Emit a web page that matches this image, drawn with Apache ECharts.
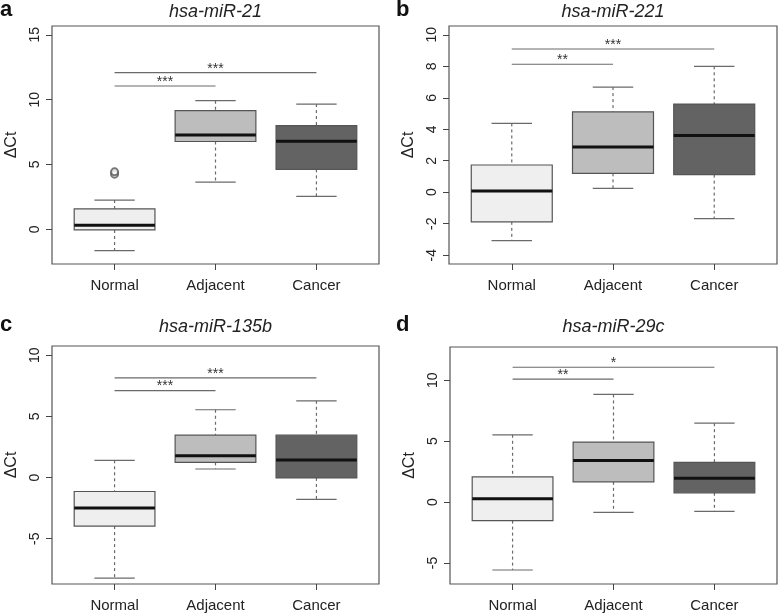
<!DOCTYPE html>
<html>
<head>
<meta charset="utf-8">
<script src="https://cdn.jsdelivr.net/npm/echarts@6/dist/echarts.min.js"></script>
<style>
html,body{margin:0;padding:0;background:#fff;}
#chart{width:778px;height:614px;}
</style>
</head>
<body>
<div id="chart"></div>
<script>
// ---------- data ----------
const categories = ['Normal', 'Adjacent', 'Cancer'];
const panelLetters = ['a', 'b', 'c', 'd'];
const panelTitles = ['hsa-miR-21', 'hsa-miR-221', 'hsa-miR-135b', 'hsa-miR-29c'];

// five-number summaries per group: [lower whisker, Q1, median, Q3, upper whisker]
const miR21Stats  = [[-1.65, -0.05, 0.31, 1.58, 2.25], [3.64, 6.77, 7.28, 9.15, 9.92], [2.54, 4.62, 6.79, 8.00, 9.66]];
const miR221Stats = [[-3.07, -1.88, 0.08, 1.73, 4.37], [0.24, 1.20, 2.88, 5.11, 6.68], [-1.68, 1.12, 3.60, 5.60, 8.00]];
const miR135bStats = [[-8.22, -3.97, -2.49, -1.14, 1.41], [0.70, 1.24, 1.78, 3.46, 5.54], [-1.78, -0.03, 1.43, 3.46, 6.27]];
const miR29cStats = [[-5.57, -1.52, 0.27, 2.07, 5.52], [-0.84, 1.66, 3.42, 4.92, 8.83], [-0.76, 0.76, 1.96, 3.26, 6.47]];

// outliers: [group (1-based), value]
const miR21Outliers = [[1, 4.25], [1, 4.43]];
const miR221Outliers = [];
const miR135bOutliers = [];
const miR29cOutliers = [];

// significance brackets: [from group, to group, y, label]
const miR21Sig  = [[1, 2, 11.05, '***'], [1, 3, 12.08, '***']];
const miR221Sig = [[1, 2, 8.13, '**'], [1, 3, 9.10, '***']];
const miR135bSig = [[1, 2, 7.11, '***'], [1, 3, 8.14, '***']];
const miR29cSig = [[1, 2, 10.08, '**'], [1, 3, 11.06, '*']];

// y tick labels
const miR21Ticks  = [0, 5, 10, 15];
const miR221Ticks = [-4, -2, 0, 2, 4, 6, 8, 10];
const miR135bTicks = [-5, 0, 5, 10];
const miR29cTicks = [-5, 0, 5, 10];

// y-axis ranges
const miR21Range  = [-2.68, 15.68];
const miR221Range = [-4.56, 10.56];
const miR135bRange = [-8.7, 10.75];
const miR29cRange = [-6.72, 12.72];

// ---------- layout / style ----------
const statsList = [miR21Stats, miR221Stats, miR135bStats, miR29cStats];
const outList = [miR21Outliers, miR221Outliers, miR135bOutliers, miR29cOutliers];
const sigList = [miR21Sig, miR221Sig, miR135bSig, miR29cSig];
const tickList = [miR21Ticks, miR221Ticks, miR135bTicks, miR29cTicks];
const rangeList = [miR21Range, miR221Range, miR135bRange, miR29cRange];

const grids = [
  {left: 52, top: 26, width: 327, height: 238},
  {left: 449, top: 26, width: 328, height: 238},
  {left: 52, top: 346, width: 327, height: 238},
  {left: 450, top: 347, width: 327, height: 237}
];
const titleCenters = [11.5, 11.5, 327, 326.5];
const letterPos = [[0, -1], [396, -1], [0, 314], [396, 314]];
const fills = ['#efefef', '#bdbdbd', '#636363'];
const FONT = 'Liberation Sans, Arial, Helvetica, sans-serif';
const GRAY = '#6a6a6a';

function boxRender(params, api) {
  const x = api.value(0);
  const lo = api.value(1), q1 = api.value(2), med = api.value(3), q3 = api.value(4), hi = api.value(5);
  const hw = 0.4, cw = 0.2;
  const tl = api.coord([x - hw, q3]);
  const br = api.coord([x + hw, q1]);
  const cTop = api.coord([x, hi]);
  const cQ3 = api.coord([x, q3]);
  const cQ1 = api.coord([x, q1]);
  const cBot = api.coord([x, lo]);
  const capL = api.coord([x - cw, hi])[0];
  const capR = api.coord([x + cw, hi])[0];
  const mL = api.coord([x - hw, med]);
  const mR = api.coord([x + hw, med]);
  const idx = Math.round(x) - 1;
  return {
    type: 'group',
    children: [
      {type: 'line', shape: {x1: cTop[0], y1: cTop[1], x2: cQ3[0], y2: cQ3[1]}, style: {stroke: GRAY, lineWidth: 1.2, lineDash: [3, 3]}},
      {type: 'line', shape: {x1: cQ1[0], y1: cQ1[1], x2: cBot[0], y2: cBot[1]}, style: {stroke: GRAY, lineWidth: 1.2, lineDash: [3, 3]}},
      {type: 'line', shape: {x1: capL, y1: cTop[1], x2: capR, y2: cTop[1]}, style: {stroke: GRAY, lineWidth: 1.2}},
      {type: 'line', shape: {x1: capL, y1: cBot[1], x2: capR, y2: cBot[1]}, style: {stroke: GRAY, lineWidth: 1.2}},
      {type: 'rect', shape: {x: tl[0], y: tl[1], width: br[0] - tl[0], height: br[1] - tl[1]}, style: {fill: fills[idx], stroke: '#555', lineWidth: 1.2}},
      {type: 'line', shape: {x1: mL[0], y1: mL[1], x2: mR[0], y2: mR[1]}, style: {stroke: '#111', lineWidth: 3}}
    ]
  };
}

function makeSigRender(panel) {
  return function (params, api) {
    const a = api.coord([api.value(0), api.value(2)]);
    const b = api.coord([api.value(1), api.value(2)]);
    const label = sigList[panel][params.dataIndex][3];
    return {
      type: 'group',
      children: [
        {type: 'line', shape: {x1: a[0], y1: a[1], x2: b[0], y2: b[1]}, style: {stroke: GRAY, lineWidth: 1.2}},
        {type: 'text', style: {text: label, x: (a[0] + b[0]) / 2, y: a[1] + 3, align: 'center', verticalAlign: 'bottom', font: '14px ' + FONT, fill: '#333'}}
      ]
    };
  };
}

const option = {
  animation: false,
  backgroundColor: '#fff',
  title: [],
  grid: [],
  xAxis: [],
  yAxis: [],
  series: []
};

for (let i = 0; i < 4; i++) {
  const g = grids[i];
  option.grid.push({left: g.left, top: g.top, width: g.width, height: g.height, show: true, borderColor: '#555', borderWidth: 1.2, backgroundColor: 'transparent'});
  option.title.push({
    text: panelTitles[i], left: g.left + g.width / 2, top: titleCenters[i] - 9, textAlign: 'center', padding: 0,
    textStyle: {fontSize: 18, fontStyle: 'italic', fontWeight: 'normal', color: '#222', fontFamily: FONT}
  });
  option.title.push({
    text: panelLetters[i], left: letterPos[i][0], top: letterPos[i][1], padding: 0,
    textStyle: {fontSize: 22, fontWeight: 'bold', color: '#111', fontFamily: FONT}
  });
  option.xAxis.push({
    gridIndex: i, type: 'value', min: 0.38, max: 3.62,
    axisLine: {show: false, onZero: false}, splitLine: {show: false},
    axisTick: {show: true, length: 6, customValues: [1, 2, 3], lineStyle: {color: '#444', width: 1}},
    axisLabel: {customValues: [1, 2, 3], formatter: v => categories[Math.round(v) - 1], fontSize: 15, color: '#222', margin: 14, fontFamily: FONT}
  });
  option.yAxis.push({
    gridIndex: i, type: 'value', min: rangeList[i][0], max: rangeList[i][1],
    axisLine: {show: false, onZero: false}, splitLine: {show: false},
    axisTick: {show: true, length: 6, customValues: tickList[i], lineStyle: {color: '#444', width: 1}},
    axisLabel: {customValues: tickList[i], rotate: 90, fontSize: 14, color: '#222', margin: 10, fontFamily: FONT},
    name: 'ΔCt', nameLocation: 'middle', nameGap: 32, nameRotate: 90,
    nameTextStyle: {fontSize: 16, color: '#222', fontFamily: FONT}
  });
  option.series.push({
    type: 'custom', xAxisIndex: i, yAxisIndex: i,
    renderItem: boxRender,
    encode: {x: 0, y: [1, 2, 3, 4, 5]},
    data: statsList[i].map((s, k) => [k + 1].concat(s)),
    silent: true
  });
  option.series.push({
    type: 'custom', xAxisIndex: i, yAxisIndex: i,
    renderItem: makeSigRender(i),
    encode: {x: [0, 1], y: 2},
    data: sigList[i].map(r => [r[0], r[1], r[2]]),
    silent: true
  });
  option.series.push({
    type: 'scatter', xAxisIndex: i, yAxisIndex: i,
    symbol: 'emptyCircle', symbolSize: 7,
    itemStyle: {color: '#555', borderWidth: 1},
    data: outList[i], silent: true
  });
}

const chart = echarts.init(document.getElementById('chart'), null, {renderer: 'canvas'});
chart.setOption(option);
</script>
</body>
</html>
